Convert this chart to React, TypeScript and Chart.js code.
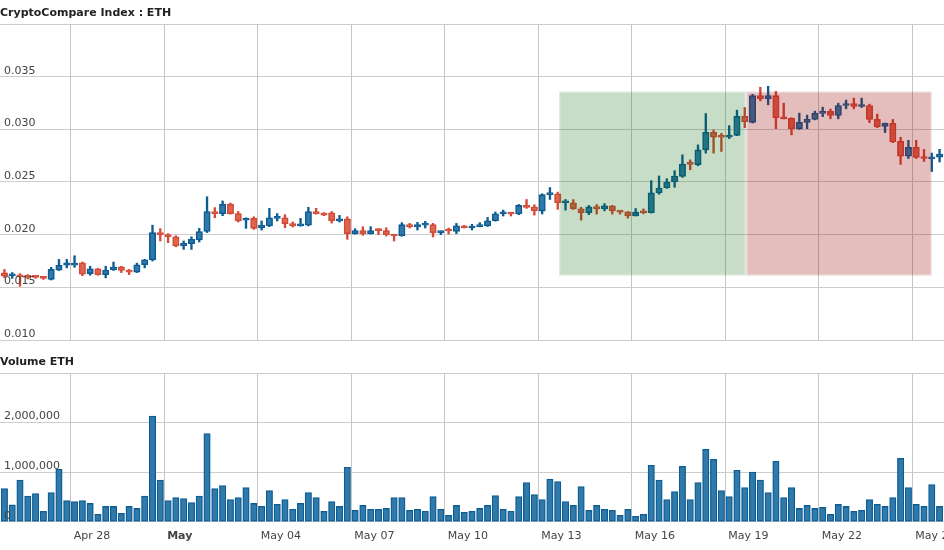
import React, { useEffect, useRef } from 'react';
import { Chart, registerables } from 'chart.js';

Chart.register(...registerables);

const FONT = '"DejaVu Sans", Verdana, sans-serif';

// Time axis: hours since Apr 25 00:00; one candle every 6 hours, centred mid-period
const FIRST_CANDLE_HOUR = 21;
const CANDLE_STEP_HOURS = 6;
const X_MIN = 17.6;
const X_MAX = 744.4;

const tickHours = [72, 144, 216, 288, 360, 432, 504, 576, 648, 720];
const tickLabels = ['Apr 28', 'May', 'May 04', 'May 07', 'May 10', 'May 13', 'May 16', 'May 19', 'May 22', 'May 25'];
const monthStartLabels = ['May'];

const opens = [
  0.01638, 0.01610, 0.01610, 0.01610, 0.01600, 0.01595, 0.01575, 0.01664, 0.01710, 0.01710,
  0.01733, 0.01630, 0.01676, 0.01620, 0.01667, 0.01695, 0.01660, 0.01645, 0.01714, 0.01760,
  0.02019, 0.02000, 0.01980, 0.01892, 0.01914, 0.01950, 0.02030, 0.02220, 0.02200, 0.02290,
  0.02200, 0.02137, 0.02156, 0.02067, 0.02083, 0.02155, 0.02160, 0.02105, 0.02083, 0.02090,
  0.02220, 0.02202, 0.02208, 0.02130, 0.02150, 0.02010, 0.02038, 0.02010, 0.02042, 0.02038,
  0.02000, 0.01990, 0.02095, 0.02073, 0.02090, 0.02095, 0.02019, 0.02040, 0.02030, 0.02085,
  0.02063, 0.02076, 0.02082, 0.02132, 0.02199, 0.02208, 0.02196, 0.02278, 0.02265, 0.02224,
  0.02380, 0.02388, 0.02302, 0.02302, 0.02245, 0.02208, 0.02267, 0.02245, 0.02274, 0.02226,
  0.02217, 0.02179, 0.02220, 0.02208, 0.02396, 0.02443, 0.02500, 0.02553, 0.02673, 0.02664,
  0.02805, 0.02972, 0.02930, 0.02925, 0.02943, 0.03123, 0.03066, 0.03320, 0.03292, 0.03320,
  0.03116, 0.03104, 0.03006, 0.03066, 0.03094, 0.03150, 0.03170, 0.03132, 0.03226, 0.03245,
  0.03217, 0.03226, 0.03094, 0.03028, 0.03057, 0.02887, 0.02745, 0.02830, 0.02736, 0.02720,
  0.02736,
];

const highs = [
  0.01670, 0.01640, 0.01630, 0.01620, 0.01610, 0.01605, 0.01690, 0.01765, 0.01765, 0.01800,
  0.01740, 0.01700, 0.01680, 0.01700, 0.01740, 0.01700, 0.01670, 0.01730, 0.01765, 0.02090,
  0.02057, 0.02010, 0.01990, 0.01940, 0.01980, 0.02060, 0.02360, 0.02257, 0.02320, 0.02300,
  0.02220, 0.02160, 0.02170, 0.02130, 0.02250, 0.02200, 0.02190, 0.02120, 0.02155, 0.02260,
  0.02250, 0.02210, 0.02220, 0.02183, 0.02170, 0.02057, 0.02076, 0.02076, 0.02057, 0.02066,
  0.02003, 0.02114, 0.02107, 0.02117, 0.02126, 0.02107, 0.02035, 0.02063, 0.02107, 0.02088,
  0.02098, 0.02114, 0.02164, 0.02215, 0.02233, 0.02210, 0.02287, 0.02334, 0.02284, 0.02388,
  0.02448, 0.02404, 0.02334, 0.02333, 0.02260, 0.02277, 0.02286, 0.02295, 0.02277, 0.02228,
  0.02220, 0.02248, 0.02245, 0.02513, 0.02557, 0.02531, 0.02607, 0.02758, 0.02710, 0.02852,
  0.03150, 0.02994, 0.02962, 0.03035, 0.03182, 0.03208, 0.03333, 0.03400, 0.03409, 0.03360,
  0.03248, 0.03110, 0.03154, 0.03135, 0.03173, 0.03210, 0.03192, 0.03248, 0.03277, 0.03296,
  0.03296, 0.03239, 0.03145, 0.03060, 0.03094, 0.02925, 0.02896, 0.02896, 0.02810, 0.02774,
  0.02810,
];

const lows = [
  0.01590, 0.01585, 0.01510, 0.01580, 0.01585, 0.01575, 0.01570, 0.01660, 0.01685, 0.01690,
  0.01610, 0.01615, 0.01615, 0.01590, 0.01660, 0.01640, 0.01620, 0.01640, 0.01685, 0.01750,
  0.01940, 0.01924, 0.01885, 0.01860, 0.01860, 0.01930, 0.02020, 0.02160, 0.02180, 0.02195,
  0.02120, 0.02060, 0.02050, 0.02044, 0.02076, 0.02130, 0.02067, 0.02073, 0.02080, 0.02083,
  0.02195, 0.02180, 0.02110, 0.02120, 0.01956, 0.02005, 0.01994, 0.02005, 0.02000, 0.01987,
  0.01940, 0.01985, 0.02063, 0.02044, 0.02063, 0.01978, 0.02000, 0.02006, 0.02010, 0.02063,
  0.02044, 0.02074, 0.02078, 0.02128, 0.02177, 0.02177, 0.02190, 0.02250, 0.02186, 0.02196,
  0.02334, 0.02240, 0.02233, 0.02240, 0.02138, 0.02190, 0.02195, 0.02226, 0.02195, 0.02195,
  0.02157, 0.02177, 0.02198, 0.02205, 0.02384, 0.02440, 0.02450, 0.02544, 0.02616, 0.02654,
  0.02774, 0.02774, 0.02790, 0.02912, 0.02940, 0.03016, 0.03060, 0.03270, 0.03233, 0.03006,
  0.03098, 0.02947, 0.03000, 0.03006, 0.03090, 0.03120, 0.03100, 0.03100, 0.03195, 0.03195,
  0.03208, 0.03063, 0.03016, 0.02969, 0.02874, 0.02667, 0.02723, 0.02723, 0.02695, 0.02600,
  0.02690,
];

const closes = [
  0.01606, 0.01615, 0.01600, 0.01595, 0.01595, 0.01585, 0.01670, 0.01710, 0.01733, 0.01730,
  0.01625, 0.01676, 0.01620, 0.01664, 0.01692, 0.01660, 0.01645, 0.01714, 0.01762, 0.02019,
  0.02000, 0.01980, 0.01892, 0.01917, 0.01956, 0.02030, 0.02220, 0.02200, 0.02290, 0.02200,
  0.02130, 0.02156, 0.02060, 0.02090, 0.02160, 0.02160, 0.02105, 0.02083, 0.02095, 0.02220,
  0.02200, 0.02186, 0.02132, 0.02150, 0.02010, 0.02038, 0.02010, 0.02038, 0.02038, 0.02000,
  0.01987, 0.02095, 0.02073, 0.02095, 0.02093, 0.02019, 0.02030, 0.02035, 0.02085, 0.02066,
  0.02079, 0.02088, 0.02132, 0.02199, 0.02215, 0.02196, 0.02278, 0.02258, 0.02227, 0.02380,
  0.02394, 0.02303, 0.02306, 0.02245, 0.02208, 0.02264, 0.02245, 0.02274, 0.02226, 0.02214,
  0.02179, 0.02214, 0.02208, 0.02396, 0.02443, 0.02500, 0.02557, 0.02670, 0.02667, 0.02805,
  0.02972, 0.02925, 0.02925, 0.02943, 0.03123, 0.03072, 0.03320, 0.03292, 0.03320, 0.03110,
  0.03100, 0.03006, 0.03066, 0.03094, 0.03154, 0.03173, 0.03132, 0.03226, 0.03245, 0.03217,
  0.03230, 0.03094, 0.03025, 0.03057, 0.02880, 0.02745, 0.02830, 0.02733, 0.02723, 0.02733,
  0.02764,
];

const volumes = [
  670000, 340000, 840000, 520000, 570000, 210000, 590000, 1060000, 430000, 410000,
  430000, 370000, 150000, 310000, 310000, 170000, 310000, 270000, 520000, 2130000,
  840000, 430000, 490000, 470000, 390000, 520000, 1780000, 670000, 730000, 450000,
  490000, 690000, 370000, 310000, 630000, 350000, 450000, 250000, 370000, 590000,
  490000, 210000, 410000, 310000, 1100000, 230000, 330000, 250000, 250000, 270000,
  490000, 490000, 230000, 250000, 210000, 510000, 250000, 130000, 330000, 190000,
  210000, 270000, 330000, 530000, 250000, 210000, 510000, 790000, 550000, 450000,
  860000, 810000, 410000, 330000, 710000, 230000, 330000, 250000, 230000, 130000,
  250000, 110000, 150000, 1140000, 840000, 450000, 610000, 1120000, 450000, 790000,
  1460000, 1260000, 630000, 510000, 1040000, 690000, 1000000, 840000, 590000, 1220000,
  490000, 690000, 270000, 330000, 270000, 290000, 150000, 350000, 310000, 210000,
  230000, 450000, 350000, 310000, 490000, 1280000, 690000, 350000, 310000, 750000,
  310000,
];

// Shaded zones (start/end in hours, price range)
const zoneStarts = [448, 592];
const zoneEnds = [592, 735];
const zoneLows = [0.0161, 0.0161];
const zoneHighs = [0.0336, 0.0336];
const zoneFills = ['rgba(0,100,0,0.22)', 'rgba(150,0,0,0.26)'];
const zoneEdges = ['rgba(0,100,0,0.12)', 'rgba(150,0,0,0.14)'];

const UP_FILL = '#2f7aaa';
const UP_LINE = '#0d5d93';
const DOWN_FILL = '#e0654f';
const DOWN_LINE = '#d34a37';
const TEXT = '#444444';

const candleHours = opens.map((_, i) => FIRST_CANDLE_HOUR + CANDLE_STEP_HOURS * i);

const zonePlugin = {
  id: 'zones',
  afterDatasetsDraw(chart: any) {
    const { ctx, chartArea, scales } = chart;
    const xs = scales.x;
    const ys = scales.y;
    ctx.save();
    ctx.beginPath();
    ctx.rect(chartArea.left, chartArea.top, chartArea.right - chartArea.left, chartArea.bottom - chartArea.top);
    ctx.clip();
    zoneStarts.forEach((s, i) => {
      const l = xs.getPixelForValue(s);
      const r = xs.getPixelForValue(zoneEnds[i]);
      const t = ys.getPixelForValue(zoneHighs[i]);
      const b = ys.getPixelForValue(zoneLows[i]);
      const e = 1.3;
      ctx.beginPath();
      ctx.rect(l, t, r - l, b - t);
      ctx.rect(l + e, t + e, r - l - 2 * e, b - t - 2 * e);
      ctx.fillStyle = zoneEdges[i];
      ctx.fill('evenodd');
      ctx.fillStyle = zoneFills[i];
      ctx.fillRect(l + e, t + e, r - l - 2 * e, b - t - 2 * e);
    });
    ctx.restore();
  },
};

function xScale(showLabels: boolean): any {
  return {
    type: 'linear',
    min: X_MIN,
    max: X_MAX,
    offset: false,
    grid: { display: true, color: '#c6c6c6', lineWidth: 1, drawTicks: false, offset: false },
    border: { display: false },
    afterBuildTicks: (scale: any) => {
      scale.ticks = tickHours.map((v) => ({ value: v }));
    },
    afterFit: (scale: any) => {
      scale.paddingLeft = 0;
      scale.paddingRight = 0;
    },
    ticks: {
      display: showLabels,
      autoSkip: false,
      maxRotation: 0,
      minRotation: 0,
      align: 'start',
      labelOffset: 3,
      padding: 7.5,
      color: TEXT,
      font: (c: any) => ({
        family: FONT,
        size: 11,
        weight: monthStartLabels.includes(tickLabels[c.index]) ? 'bold' : 'normal',
      }),
      callback: (_v: any, i: number) => tickLabels[i],
    },
  };
}

function yScale(min: number, max: number, step: number, fmt: (v: number) => string): any {
  return {
    type: 'linear',
    min,
    max,
    grid: { color: '#cdcdcd', lineWidth: 1, drawTicks: false },
    border: { display: false },
    afterFit: (scale: any) => {
      scale.width = 0;
      scale.paddingTop = 0;
      scale.paddingBottom = 0;
    },
    ticks: {
      mirror: true,
      stepSize: step,
      padding: 4,
      labelOffset: -6,
      z: 1,
      color: TEXT,
      font: { family: FONT, size: 11 },
      callback: (v: any, i: number, ticks: any[]) => (i === ticks.length - 1 ? '' : fmt(Number(v))),
    },
  };
}

export default function App() {
  const priceRef = useRef<HTMLCanvasElement>(null);
  const volRef = useRef<HTMLCanvasElement>(null);

  useEffect(() => {
    Chart.defaults.font.family = FONT;
    const isUp = opens.map((o, i) => closes[i] >= o);

    const price = new Chart(priceRef.current as HTMLCanvasElement, {
      type: 'bar',
      data: {
        datasets: [
          {
            label: 'body',
            data: candleHours.map((h, i) => ({ x: h, y: [opens[i], closes[i]] })) as any,
            backgroundColor: isUp.map((u) => (u ? UP_FILL : DOWN_FILL)),
            borderColor: isUp.map((u) => (u ? UP_LINE : DOWN_LINE)),
            borderWidth: 1.6,
            borderSkipped: false,
            barThickness: 6.4,
            minBarLength: 2,
            grouped: false,
            order: 0,
          } as any,
          {
            label: 'wick',
            data: candleHours.map((h, i) => ({ x: h, y: [lows[i], highs[i]] })) as any,
            backgroundColor: isUp.map((u) => (u ? UP_LINE : DOWN_LINE)),
            borderWidth: 0,
            barThickness: 1.7,
            grouped: false,
            order: 1,
          } as any,
        ],
      },
      options: {
        animation: false,
        responsive: true,
        maintainAspectRatio: false,
        events: [],
        layout: { padding: { left: 0, right: 0, top: 0, bottom: 1 } },
        plugins: {
          legend: { display: false },
          tooltip: { enabled: false },
          title: {
            display: true,
            text: 'CryptoCompare Index : ETH',
            align: 'start',
            color: '#222222',
            font: { family: FONT, size: 11, weight: 'bold', lineHeight: 1.2 },
            padding: { top: 6.9, bottom: 3.9 },
          },
        },
        scales: {
          x: xScale(false),
          y: yScale(0.01, 0.04, 0.005, (v) => v.toFixed(3)),
        },
      } as any,
      plugins: [zonePlugin],
    });

    const vol = new Chart(volRef.current as HTMLCanvasElement, {
      type: 'bar',
      data: {
        datasets: [
          {
            label: 'Volume ETH',
            data: candleHours.map((h, i) => ({ x: h, y: volumes[i] })) as any,
            backgroundColor: UP_FILL,
            borderColor: UP_LINE,
            borderWidth: 1.3,
            borderSkipped: false,
            barThickness: 6.4,
            grouped: false,
          } as any,
        ],
      },
      options: {
        animation: false,
        responsive: true,
        maintainAspectRatio: false,
        events: [],
        layout: { padding: 0 },
        plugins: {
          legend: { display: false },
          tooltip: { enabled: false },
          title: {
            display: true,
            text: 'Volume ETH',
            align: 'start',
            color: '#222222',
            font: { family: FONT, size: 11, weight: 'bold', lineHeight: 1.2 },
            padding: { top: 14.4, bottom: 4.4 },
          },
        },
        scales: {
          x: xScale(true),
          y: yScale(0, 3000000, 1000000, (v) => v.toLocaleString('en-US')),
        },
      } as any,
    });

    return () => {
      price.destroy();
      vol.destroy();
    };
  }, []);

  return (
    <div style={{ position: 'absolute', left: 0, top: 0, width: 944, height: 550, overflow: 'hidden', background: '#ffffff' }}>
      <div style={{ position: 'absolute', left: 0, top: 0, width: 944, height: 341 }}>
        <canvas ref={priceRef} />
      </div>
      <div style={{ position: 'absolute', left: 0, top: 341, width: 944, height: 209 }}>
        <canvas ref={volRef} />
      </div>
    </div>
  );
}
